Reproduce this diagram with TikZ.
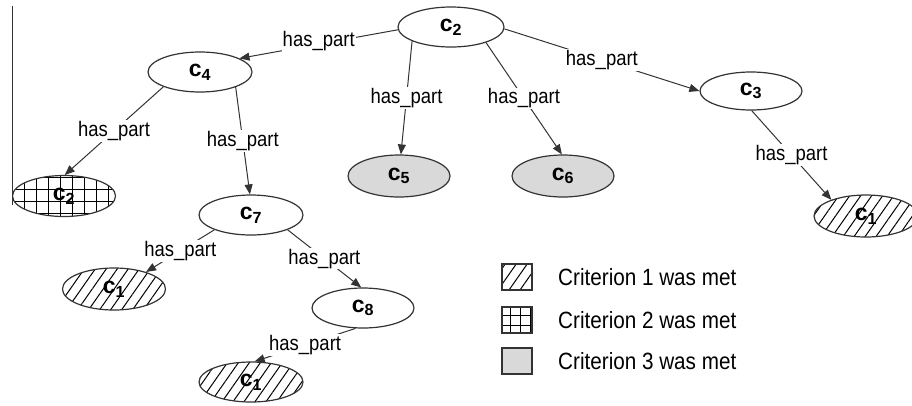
\documentclass[tikz,border=0pt]{standalone}
\usepackage{fontspec}
\setmainfont{Liberation Sans}
\newfontfamily\condfont[FakeStretch=0.88]{Liberation Sans}
\usetikzlibrary{shapes.geometric,arrows.meta,patterns.meta}
\definecolor{edgec}{HTML}{333333}
\definecolor{greyfill}{HTML}{D9D9D9}
\begin{document}
\begin{tikzpicture}[x=1pt,y=-1pt,
  cnode/.style={ellipse, draw=edgec, line width=1.2pt, minimum width=104pt,
    minimum height=40pt, inner sep=0pt, font=\fontsize{23}{25}\selectfont\bfseries},
  cplain/.style={cnode, fill=white},
  cgrey/.style={cnode, fill=greyfill},
  cdiag/.style={cnode, pattern={Lines[angle=55,distance=9pt,line width=1pt]}, pattern color=black},
  cgrid/.style={cnode, pattern={Hatch[angle=0,distance=12pt,line width=1pt]}, pattern color=black},
  rel/.style={draw=edgec, line width=1pt, -{Triangle[length=10pt,width=8pt]}},
  lab/.style={fill=white, inner sep=1pt, font=\condfont\fontsize{21}{22}\selectfont},
  legtext/.style={font=\condfont\fontsize{23.5}{25}\selectfont, anchor=west, inner sep=0pt},
  legbox/.style={draw=edgec, line width=1.2pt, minimum width=30pt, minimum height=26pt, inner sep=0pt}
]
\useasboundingbox (0,0) rectangle (912,405);

% stray frame line at the left
\draw[edgec, line width=0.8pt] (12,6) -- (12,205);

% nodes
\node[cplain, minimum width=106pt] (c2) at (451,27) {c\textsubscript{2}};
\node[cplain] (c4) at (200,72) {c\textsubscript{4}};
\node[cgrid, minimum width=103pt, minimum height=41pt] (c2h) at (64,196) {c\textsubscript{2}};
\node[cgrey, minimum width=102pt, minimum height=42pt] (c5) at (399,176) {c\textsubscript{5}};
\node[cgrey, minimum width=102pt, minimum height=42pt] (c6) at (563,176) {c\textsubscript{6}};
\node[cplain, minimum width=102pt, minimum height=38pt] (c3) at (751,91) {c\textsubscript{3}};
\node[cdiag, minimum height=42pt] (c1r) at (866,216) {c\textsubscript{1}};
\node[cplain] (c7) at (251,215) {c\textsubscript{7}};
\node[cdiag, minimum width=103pt, minimum height=42pt] (c1l) at (114,289) {c\textsubscript{1}};
\node[cplain, minimum width=102pt] (c8) at (363,308) {c\textsubscript{8}};
\node[cdiag] (c1b) at (251,382) {c\textsubscript{1}};

% connectors
\draw[rel] (c2.183) -- node[lab, pos=0.5, yshift=3pt] {has\_part} (c4.19);
\draw[rel] (c2.200) -- node[lab, pos=0.5] {has\_part} (c5.85);
\draw[rel] (c2.336) -- node[lab, pos=0.5] {has\_part} (c6.93);
\draw[rel] (c2.358) -- node[lab, pos=0.5] {has\_part} (c3.180);
\draw[rel] (c3.272) -- node[lab, pos=0.5] {has\_part} (c1r.155);
\draw[rel] (c4.202) -- node[lab, pos=0.5] {has\_part} (c2h.88);
\draw[rel] (c4.337) -- node[lab, pos=0.5] {has\_part} (c7.93);
\draw[rel] (c7.202) -- node[lab, pos=0.5] {has\_part} (c1l.28);
\draw[rel] (c7.338) -- node[lab, pos=0.5] {has\_part} (c8.95);
\draw[rel] (c8.250) -- node[lab, pos=0.5] {has\_part} (c1b.80);

% legend
\node[legbox, pattern={Lines[angle=55,distance=9pt,line width=1pt]}, pattern color=black] (k1) at (517,277) {};
\node[legbox, pattern={Hatch[angle=0,distance=10pt,line width=1pt]}, pattern color=black] (k2) at (517,320) {};
\node[legbox, fill=greyfill] (k3) at (517,361) {};
\node[legtext] (t1) at (558,277) {Criterion 1 was met};
\node[legtext] (t2) at (558,320) {Criterion 2 was met};
\node[legtext] (t3) at (558,361) {Criterion 3 was met};
\end{tikzpicture}
\end{document}
